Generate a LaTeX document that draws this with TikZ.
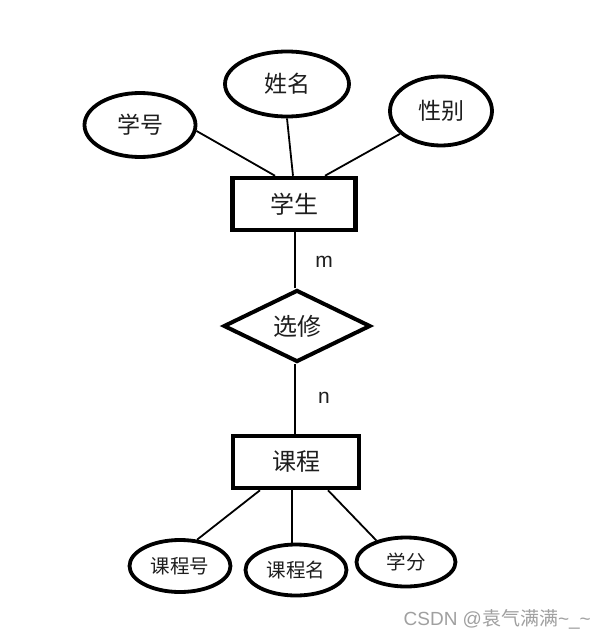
\documentclass[tikz,border=0pt]{standalone}
\usepackage{fontspec}
\setmainfont{Noto Sans CJK SC}
\setsansfont{Noto Sans CJK SC}
\newfontfamily\latinwm{Liberation Sans}
\usetikzlibrary{shapes.geometric,calc}
\definecolor{ink}{HTML}{1E1E1E}
\definecolor{wm}{HTML}{A0A0A0}
\begin{document}
\begin{tikzpicture}[x=1pt,y=-1pt,
  attr/.style={ellipse,draw=black,line width=3.8pt,inner sep=0pt,text=ink,font=\fontsize{23}{23}\selectfont},
  sattr/.style={attr,font=\fontsize{19.5}{19.5}\selectfont},
  entity/.style={rectangle,draw=black,line width=4.5pt,inner sep=0pt,minimum height=52pt,text=ink,font=\fontsize{24}{24}\selectfont},
  rel/.style={diamond,draw=black,line width=4pt,inner sep=0pt,minimum width=147pt,minimum height=72pt,aspect=2,text=ink,font=\fontsize{24}{24}\selectfont},
  conn/.style={draw=black,line width=1.8pt},
  card/.style={text=ink,font=\latinwm\fontsize{21}{21}\selectfont,inner sep=0pt}]
\useasboundingbox (0,0) rectangle (605,637);
\fill[white] (0,0) rectangle (605,637);
% attributes of student
\node[attr,minimum width=111pt,minimum height=64pt] (xh) at (140,125) {学号};
\node[attr,minimum width=124pt,minimum height=65pt] (xm) at (287,84) {姓名};
\node[attr,minimum width=102pt,minimum height=69pt] (xb) at (441,111) {性别};
% entities
\node[entity,minimum width=123pt] (xs) at (294,204) {学生};
\node[rel] (xx) at (297,326) {选修};
\node[entity,minimum width=126pt] (kc) at (296,462) {课程};
% attributes of course
\node[sattr,minimum width=101pt,minimum height=52pt] (kh) at (180,566) {课程号};
\node[sattr,minimum width=101pt,minimum height=51pt] (km) at (296,570) {课程名};
\node[sattr,minimum width=99pt,minimum height=49pt] (xf) at (406,562) {学分};
% connectors
\draw[conn] (xh.-6) -- ([xshift=-19pt]xs.north);
\draw[conn] (xm.south) -- ([xshift=-1pt]xs.north);
\draw[conn] ([xshift=31pt]xs.north) -- (xb);
\draw[conn] ([xshift=1pt]xs.south) -- ([xshift=-2pt]xx.north);
\draw[conn] ([xshift=-2pt]xx.south) -- ([xshift=-1pt]kc.north);
\draw[conn] (kh.57) -- ([xshift=-36pt]kc.south);
\draw[conn] ([xshift=-4pt]km.north) -- ([xshift=-4pt]kc.south);
\draw[conn] ([xshift=32pt]kc.south) -- (xf.144);
% cardinalities
\node[card] (m) at (324,262) {m};
\node[card] (n) at (324,398) {n};
% watermark
\node[text=wm,font=\fontsize{19}{19}\selectfont,inner sep=0pt,anchor=east] (wmk) at (591,619) {{\latinwm CSDN @}袁气满满{\latinwm\textasciitilde\_\textasciitilde}};
\end{tikzpicture}
\end{document}
